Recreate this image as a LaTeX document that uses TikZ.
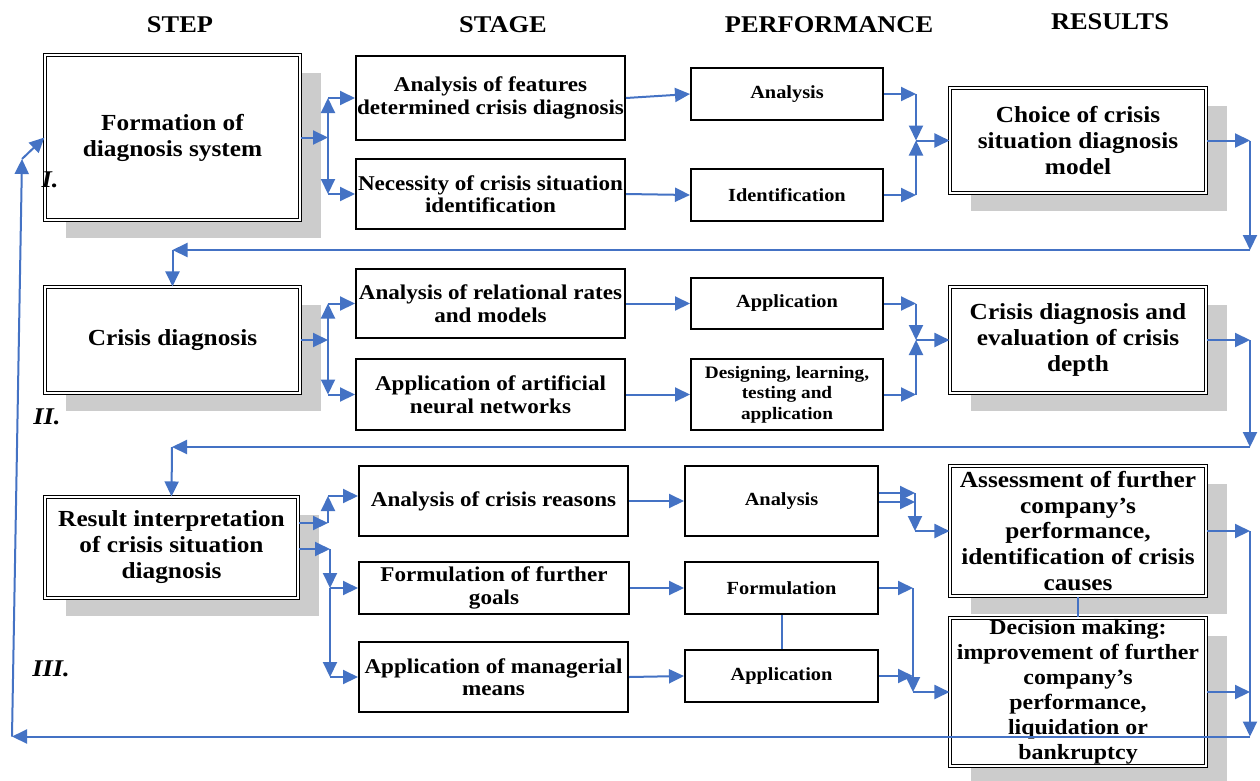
\documentclass[tikz,border=0pt]{standalone}
\usepackage{fontspec}
\setmainfont{Liberation Serif}[FakeStretch=1.1]
\usetikzlibrary{arrows.meta,shadows}
\definecolor{lnblue}{HTML}{4472C4}
\definecolor{shgray}{HTML}{CCCCCC}
\newcommand{\fhdr}{\fontsize{24}{28}\selectfont\bfseries}
\newcommand{\fmain}{\fontsize{23}{26}\selectfont\bfseries}
\newcommand{\fstage}{\fontsize{21}{22.5}\selectfont\bfseries}
\newcommand{\fperf}{\fontsize{18.5}{22}\selectfont\bfseries}
\newcommand{\fdes}{\fontsize{17.5}{20.5}\selectfont\bfseries}
\newcommand{\fres}{\fontsize{23}{25.8}\selectfont\bfseries}
\newcommand{\fresb}{\fontsize{21.7}{25}\selectfont\bfseries}
\newcommand{\fnum}{\fontsize{24}{28}\selectfont\bfseries\itshape}
\begin{document}
\begin{tikzpicture}[x=1pt,y=-1pt,
  box/.style={draw=black, line width=2pt, fill=white, align=center, inner sep=0pt, font=\fstage},
  pbox/.style={box, font=\fperf},
  dbox/.style={draw=black, double=white, line width=1.3pt, double distance=1.6pt, fill=white,
     align=center, inner sep=0pt, font=\fmain,
     drop shadow={shadow xshift=21pt, shadow yshift=-18pt, fill=shgray, opacity=1}},
  rbox/.style={dbox, font=\fres},
  hdr/.style={font=\fhdr, inner sep=0pt},
  num/.style={font=\fnum, inner sep=0pt},
  conn/.style={draw=lnblue, line width=2pt, -{Triangle[length=15pt,width=14pt]}},
  bline/.style={draw=lnblue, line width=2pt}]
\fill[white] (0,0) rectangle (1260,780);
\useasboundingbox (0,0) rectangle (1260,780);

% headers
\node[hdr] (hStep) at (180,25) {STEP};
\node[hdr] (hStage) at (503,25) {STAGE};
\node[hdr] (hPerf) at (829,25) {PERFORMANCE};
\node[hdr] (hRes) at (1110,22) {RESULTS};

% step boxes
\node[dbox, minimum width=254.8pt, minimum height=164.8pt] (I) at (172.5,137.5) {Formation of\\diagnosis system};
\node[dbox, minimum width=254.8pt, minimum height=105.8pt] (II) at (172.5,340) {Crisis diagnosis};
\node[dbox, minimum width=252.8pt, minimum height=100.8pt] (III) at (171.5,547.5) {Result interpretation\\of crisis situation\\diagnosis};

% result boxes
\node[rbox, minimum width=255.8pt, minimum height=104.8pt] (R1) at (1078,140.5) {Choice of crisis\\situation diagnosis\\model};
\node[rbox, minimum width=255.8pt, minimum height=105.8pt] (R2) at (1078,340) {Crisis diagnosis and\\evaluation of crisis\\depth};
\node[rbox, minimum width=255.8pt, minimum height=129.8pt] (R3) at (1078,531) {Assessment of further\\company’s\\performance,\\identification of crisis\\causes};
\node[rbox, font=\fresb, minimum width=255.8pt, minimum height=147.8pt] (R4) at (1078,692) {Decision making:\\improvement of further\\company’s\\performance,\\liquidation or\\bankruptcy};

% stage boxes
\node[box, minimum width=269pt, minimum height=84pt] (S1) at (490.5,98) {Analysis of features\\determined crisis diagnosis};
\node[box, minimum width=269pt, minimum height=70pt] (S2) at (490.5,194) {Necessity of crisis situation\\identification};
\node[box, minimum width=269pt, minimum height=69pt] (S3) at (490.5,303.5) {Analysis of relational rates\\and models};
\node[box, minimum width=269pt, minimum height=71pt] (S4) at (490.5,394.5) {Application of artificial\\neural networks};
\node[box, minimum width=269pt, minimum height=70pt] (S5) at (493.5,501) {Analysis of crisis reasons};
\node[box, minimum width=270pt, minimum height=52pt] (S6) at (494,588) {Formulation of further\\goals};
\node[box, minimum width=269pt, minimum height=70pt] (S7) at (493.5,677) {Application of managerial\\means};

% performance boxes
\node[pbox, minimum width=192pt, minimum height=52pt] (P1) at (787,94) {Analysis};
\node[pbox, minimum width=192pt, minimum height=52pt] (P2) at (787,195) {Identification};
\node[pbox, minimum width=192pt, minimum height=51pt] (P3) at (787,303.5) {Application};
\node[pbox, font=\fdes, minimum width=192pt, minimum height=71pt] (P4) at (787,394.5) {Designing, learning,\\testing and\\application};
\node[pbox, minimum width=193pt, minimum height=70pt] (P5) at (781.5,501) {Analysis};
\node[pbox, minimum width=193pt, minimum height=52pt] (P6) at (781.5,588) {Formulation};
\node[pbox, minimum width=193pt, minimum height=52pt] (P7) at (781.5,676) {Application};

% numerals
\node[num] (nI) at (50,180) {I.};
\node[num] (nII) at (47,417) {II.};
\node[num] (nIII) at (51,669) {III.};

% ---- connectors, step I
\coordinate (j1) at (328,137.5);
\coordinate (j1a) at (328,98);
\coordinate (j1b) at (328,194);
\draw[conn] (I.east) -- (j1);
\draw[conn] (j1) -- (j1a);
\draw[conn] (j1) -- (j1b);
\draw[conn] (j1a) -- (S1.west);
\draw[conn] (j1b) -- (S2.west);
\draw[conn] (S1.east) -- (P1.west);
\draw[conn] (S2.east) -- (P2.west);
\coordinate (k1) at (916,140.5);
\coordinate (k1a) at (916,94);
\coordinate (k1b) at (916,195);
\draw[conn] (P1.east) -- (k1a);
\draw[conn] (P2.east) -- (k1b);
\draw[conn] (k1a) -- (k1);
\draw[conn] (k1b) -- (k1);
\draw[conn] (k1) -- (R1.west);
\coordinate (r1a) at (1250,140.5);
\coordinate (r1b) at (1250,250);
\coordinate (l1) at (172.5,250);
\draw[conn] (R1.east) -- (r1a);
\draw[conn] (r1a) -- (r1b);
\draw[conn] (r1b) -- (l1);
\draw[conn] (l1) -- (II.north);

% ---- step II
\coordinate (j2) at (328,340);
\coordinate (j2a) at (328,303.5);
\coordinate (j2b) at (328,394.5);
\draw[conn] (II.east) -- (j2);
\draw[conn] (j2) -- (j2a);
\draw[conn] (j2) -- (j2b);
\draw[conn] (j2a) -- (S3.west);
\draw[conn] (j2b) -- (S4.west);
\draw[conn] (S3.east) -- (P3.west);
\draw[conn] (S4.east) -- (P4.west);
\coordinate (k2) at (916,340);
\coordinate (k2a) at (916,303.5);
\coordinate (k2b) at (916,394.5);
\draw[conn] (P3.east) -- (k2a);
\draw[conn] (P4.east) -- (k2b);
\draw[conn] (k2a) -- (k2);
\draw[conn] (k2b) -- (k2);
\draw[conn] (k2) -- (R2.west);
\coordinate (r2a) at (1250,340);
\coordinate (r2b) at (1250,447);
\coordinate (l2) at (172,447);
\draw[conn] (R2.east) -- (r2a);
\draw[conn] (r2a) -- (r2b);
\draw[conn] (r2b) -- (l2);
\draw[conn] (l2) -- (III.north);

% ---- step III
\coordinate (m1) at (328,523);
\coordinate (m1a) at (328,496);
\draw[conn] (III.east |- m1) -- (m1);
\draw[conn] (m1) -- (m1a);
\draw[conn] (m1a) -- (S5.west |- m1a);
\coordinate (m2) at (330,549);
\coordinate (m2a) at (330,588);
\coordinate (m2b) at (330,677);
\draw[conn] (III.east |- m2) -- (m2);
\draw[conn] (m2) -- (m2a);
\draw[conn] (m2a) -- (S6.west);
\draw[conn] (m2a) -- (m2b);
\draw[conn] (m2b) -- (S7.west);
\draw[conn] (S5.east) -- (P5.west);
\draw[conn] (S6.east) -- (P6.west);
\draw[conn] (S7.east) -- (P7.west);
\draw[bline] (P6.south) -- (P7.north);
\draw[bline] (R3.south) -- (R4.north);
\coordinate (n1) at (915,493);
\coordinate (n2) at (915,502);
\coordinate (n3) at (915,531);
\draw[conn] (P5.east |- n1) -- (n1);
\draw[conn] (P5.east |- n2) -- (n2);
\draw[conn] (n1) -- (n3);
\draw[conn] (n3) -- (R3.west);
\coordinate (o1) at (913,588);
\coordinate (o2) at (913,692);
\coordinate (o3) at (913,676);
\draw[conn] (P6.east) -- (o1);
\draw[conn] (P7.east) -- (o3);
\draw[conn] (o1) -- (o2);
\draw[conn] (o2) -- (R4.west);
\coordinate (q1) at (1250,531);
\coordinate (q2) at (1250,692);
\coordinate (q3) at (1250,736.5);
\coordinate (z1) at (12,736.5);
\coordinate (z2) at (22,159);
\draw[conn] (R3.east) -- (q1);
\draw[conn] (R4.east) -- (q2);
\draw[conn] (q1) -- (q3);
\draw[conn] (q3) -- (z1);
\draw[conn] (z1) -- (z2);
\draw[conn] (z2) -- (I.west);
\end{tikzpicture}
\end{document}
